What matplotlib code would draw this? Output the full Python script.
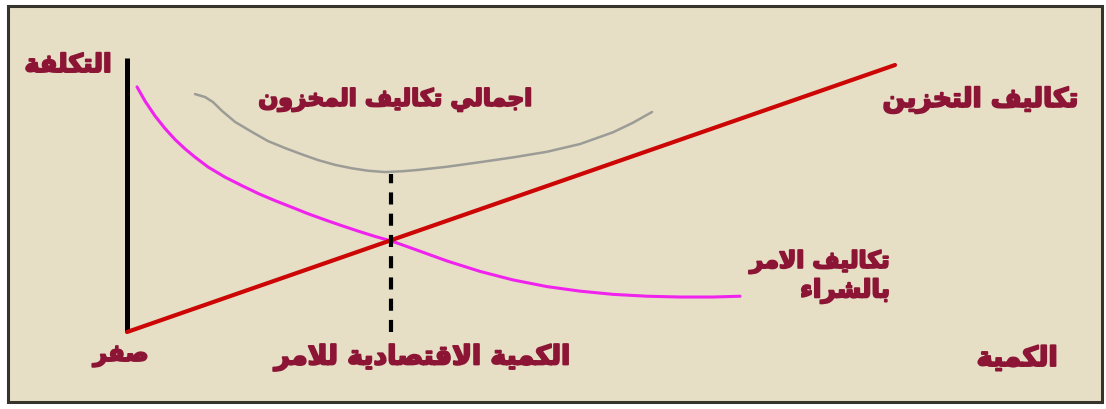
import matplotlib
matplotlib.use("Agg")
import matplotlib.pyplot as plt
from matplotlib.patches import Rectangle
import matplotlib.patheffects as pe

# quantity (x) and cost (y), both on a 0-100 scale
storage_q = [0, 100]
storage_cost = [0, 100]

order_q = [1.30, 2.34, 3.65, 4.95, 6.25, 7.55, 8.85, 10.55, 12.76, 14.97, 17.06, 19.27,
           21.48, 23.57, 25.78, 27.99, 30.08, 32.29, 34.51, 37.24, 41.67, 45.96, 50.26,
           54.69, 58.98, 63.28, 67.71, 72.01, 76.30, 79.82]
order_cost = [91.8, 86.5, 80.9, 76.2, 72.1, 68.6, 65.5, 61.8, 58.0, 54.8, 51.9, 49.2,
              46.7, 44.3, 42.0, 39.8, 37.8, 35.8, 34.0, 31.2, 26.6, 22.7, 19.5,
              17.0, 15.3, 14.1, 13.4, 13.1, 13.1, 13.4]

total_q = [8.85, 10.16, 11.20, 12.37, 14.06, 16.28, 18.36, 20.57, 22.79, 24.87, 27.08,
           29.30, 31.38, 33.59, 35.81, 37.89, 41.67, 45.96, 50.26, 54.69, 58.98, 63.28,
           65.89, 68.36]
total_cost = [89.1, 88.0, 86.1, 82.8, 78.7, 74.9, 71.5, 68.9, 66.5, 64.4, 62.6,
              61.3, 60.4, 59.9, 60.2, 60.7, 61.9, 63.6, 65.4, 67.5, 70.4, 74.8,
              78.4, 82.4]

eoq_q = 34.4
eoq_cost = 59.2
cost_axis_top = 102.6

labels = {
    "cost": "التكلفة",
    "total": "اجمالي تكاليف المخزون",
    "storage": "تكاليف التخزين",
    "order1": "تكاليف الامر",
    "order2": "بالشراء",
    "zero": "صفر",
    "eoq": "الكمية الاقتصادية للامر",
    "qty": "الكمية",
}

# matplotlib has no arabic shaping, so pick presentation forms by hand
FORMS = {
    "ء": ("\uFE80", None, None, None),
    "ا": ("\uFE8D", "\uFE8E", None, None),
    "ب": ("\uFE8F", "\uFE90", "\uFE91", "\uFE92"),
    "ة": ("\uFE93", "\uFE94", None, None),
    "ت": ("\uFE95", "\uFE96", "\uFE97", "\uFE98"),
    "ج": ("\uFE9D", "\uFE9E", "\uFE9F", "\uFEA0"),
    "خ": ("\uFEA5", "\uFEA6", "\uFEA7", "\uFEA8"),
    "د": ("\uFEA9", "\uFEAA", None, None),
    "ر": ("\uFEAD", "\uFEAE", None, None),
    "ز": ("\uFEAF", "\uFEB0", None, None),
    "ش": ("\uFEB5", "\uFEB6", "\uFEB7", "\uFEB8"),
    "ص": ("\uFEB9", "\uFEBA", "\uFEBB", "\uFEBC"),
    "ف": ("\uFED1", "\uFED2", "\uFED3", "\uFED4"),
    "ق": ("\uFED5", "\uFED6", "\uFED7", "\uFED8"),
    "ك": ("\uFED9", "\uFEDA", "\uFEDB", "\uFEDC"),
    "ل": ("\uFEDD", "\uFEDE", "\uFEDF", "\uFEE0"),
    "م": ("\uFEE1", "\uFEE2", "\uFEE3", "\uFEE4"),
    "ن": ("\uFEE5", "\uFEE6", "\uFEE7", "\uFEE8"),
    "و": ("\uFEED", "\uFEEE", None, None),
    "ي": ("\uFEF1", "\uFEF2", "\uFEF3", "\uFEF4"),
    "لا": ("\uFEFB", "\uFEFC", None, None),
}


def shape(text):
    words = []
    for word in text.split(" "):
        letters = []
        i = 0
        while i < len(word):
            if word[i] == "ل" and i + 1 < len(word) and word[i + 1] == "ا":
                letters.append("لا")
                i += 2
            else:
                letters.append(word[i])
                i += 1
        glyphs = []
        for k, ch in enumerate(letters):
            iso, fin, ini, med = FORMS[ch]
            prev_ok = k > 0 and FORMS[letters[k - 1]][2] is not None and fin is not None
            next_ok = ini is not None and k + 1 < len(letters) and FORMS[letters[k + 1]][1] is not None
            if prev_ok and next_ok:
                glyphs.append(med)
            elif prev_ok:
                glyphs.append(fin)
            elif next_ok:
                glyphs.append(ini)
            else:
                glyphs.append(iso)
        words.append("".join(glyphs)[::-1])
    return " ".join(words[::-1])


W, H = 1106, 410
fig = plt.figure(figsize=(W / 100, H / 100), dpi=100)
fig.patch.set_facecolor("white")

frame = Rectangle((8 / W, 7 / H), 1094 / W, 396 / H, transform=fig.transFigure,
                  facecolor="#e6dfc6", edgecolor="#34342c", linewidth=2.2, zorder=-1)
fig.add_artist(frame)

ax = fig.add_axes([0, 0, 1, 1])
ax.set_xlim(-16.54, 127.47)
ax.set_ylim(-28.84, 124.72)
ax.axis("off")
ax.patch.set_alpha(0)

ax.plot([0, 0], [0, cost_axis_top], color="black", lw=3.6, solid_capstyle="butt")
ax.plot(total_q, total_cost, color="#9c9c96", lw=1.8, solid_capstyle="round",
        solid_joinstyle="round")
ax.plot(order_q, order_cost, color="#f022ee", lw=2.2, solid_capstyle="round",
        solid_joinstyle="round")
ax.plot(storage_q, storage_cost, color="#cc0505", lw=3.0, solid_capstyle="round")
ax.plot([eoq_q, eoq_q], [0, eoq_cost], color="black", lw=3.0, dashes=(2.9, 2.2))

txt_color = "#8c1535"
effects = [pe.withStroke(linewidth=1.4, foreground=txt_color)]

# (key, x, y, ha, target width in px)
placements = [
    ("cost", -7.7, 100.0, "center", 87),
    ("total", 34.9, 86.9, "center", 274),
    ("storage", 111.1, 86.9, "center", 196),
    ("order1", 99.35, 26.2, "right", 140),
    ("order2", 99.35, 15.4, "right", 90),
    ("zero", -0.8, -8.6, "center", 55),
    ("eoq", 38.5, -9.4, "center", 296),
    ("qty", 115.9, -10.1, "center", 81),
]

texts = []
for key, x, y, ha, target in placements:
    t = ax.text(x, y, shape(labels[key]), ha=ha, va="center", fontsize=15,
                fontweight="bold", color=txt_color, family=["DejaVu Sans"],
                path_effects=effects)
    texts.append((t, target))

fig.canvas.draw()
renderer = fig.canvas.get_renderer()
for t, target in texts:
    w = t.get_window_extent(renderer).width
    t.set_fontsize(15 * target / w)

fig.savefig("out.png", dpi=100, facecolor=fig.get_facecolor())
